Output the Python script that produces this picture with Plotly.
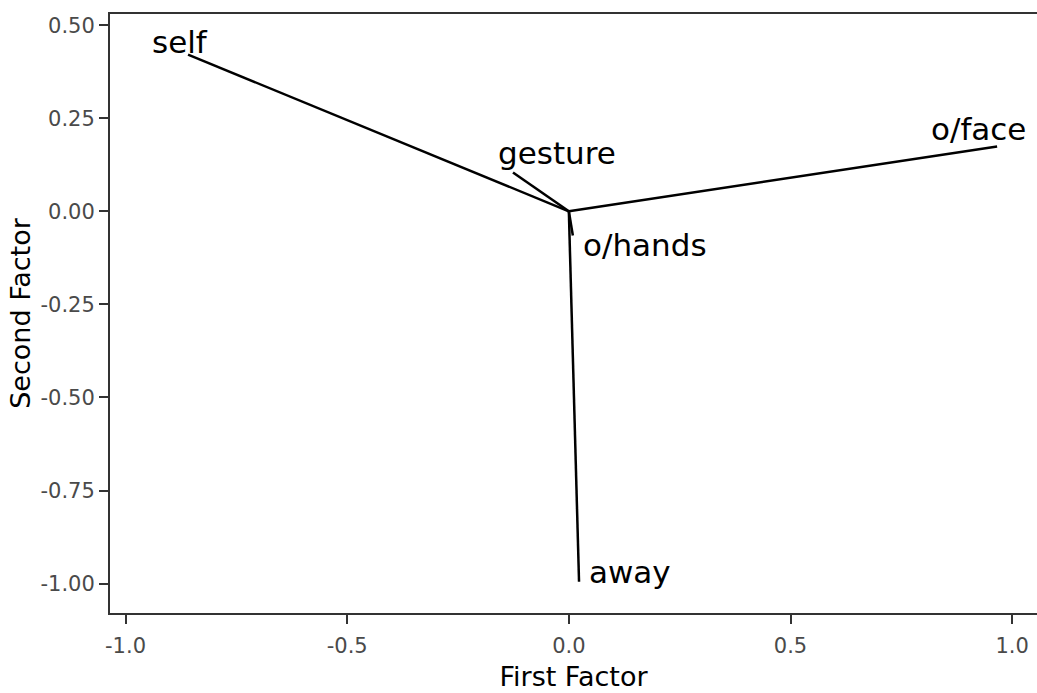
import plotly.graph_objects as go

# Factor loadings for each behaviour category
categories = ["self", "gesture", "o/face", "o/hands", "away"]
first_factor = [-0.859, -0.126, 0.966, 0.009, 0.023]
second_factor = [0.421, 0.104, 0.174, -0.065, -0.995]

x_ticks = [-1.0, -0.5, 0.0, 0.5, 1.0]
x_tick_text = ["-1.0", "-0.5", "0.0", "0.5", "1.0"]
y_ticks = [0.5, 0.25, 0.0, -0.25, -0.5, -0.75, -1.0]
y_tick_text = ["0.50", "0.25", "0.00", "-0.25", "-0.50", "-0.75", "-1.00"]

# label placement relative to each vector tip (pixels)
label_shift = {
    "self": (-38, 13),
    "gesture": (-17, 20),
    "o/face": (-68, 18),
    "o/hands": (8, -9),
    "away": (8, 10),
}

fig = go.Figure()

for name, fx, fy in zip(categories, first_factor, second_factor):
    fig.add_trace(go.Scatter(
        x=[0, fx], y=[0, fy], mode="lines",
        line=dict(color="black", width=2.5),
        name=name, showlegend=False, hoverinfo="skip",
    ))
    dx, dy = label_shift[name]
    fig.add_annotation(
        x=fx, y=fy, text=name, showarrow=False,
        xanchor="left", yanchor="middle", xshift=dx, yshift=dy,
        font=dict(family="DejaVu Sans", size=31, color="black"),
    )

axis_common = dict(
    showgrid=False, zeroline=False, showline=True,
    linecolor="#333333", linewidth=2,
    ticks="outside", ticklen=9, tickwidth=2, tickcolor="#333333",
    tickfont=dict(family="DejaVu Sans", size=21, color="#4a4a4a"),
)

fig.update_xaxes(
    range=[-1.035, 1.056], tickvals=x_ticks, ticktext=x_tick_text,
    mirror=True, ticklabelstandoff=4,
    title=dict(text="First Factor", standoff=10,
               font=dict(family="DejaVu Sans", size=27, color="black")),
    **axis_common,
)
fig.update_yaxes(
    range=[-1.079, 0.53], tickvals=y_ticks, ticktext=y_tick_text,
    title=dict(text="Second Factor", standoff=2,
               font=dict(family="DejaVu Sans", size=27, color="black")),
    **axis_common,
)

fig.update_layout(
    width=1037, height=693,
    margin=dict(l=110, r=0, t=14, b=80),
    plot_bgcolor="white", paper_bgcolor="white",
)

fig.write_html("out.html")
